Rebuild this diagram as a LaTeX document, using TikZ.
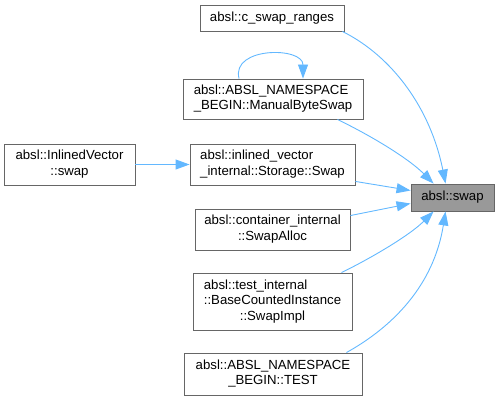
\documentclass[tikz,border=0pt]{standalone}
\usepackage{fontspec}
\setmainfont{Liberation Sans}
\usepackage{xcolor}
\definecolor{dxEdge}  {RGB}{ 99, 184, 255}
\definecolor{dxBorder}{RGB}{102, 102, 102}
\definecolor{dxFocus} {RGB}{153, 153, 153}
\usepackage{tikz}
\usetikzlibrary{
  arrows.meta,
  positioning,
}
% label lines: left aligned, last one centred
\newcommand{\fnlabel}[1]{\begin{tabular}{@{}l@{}}#1\end{tabular}}
\newcommand{\lastrow}[1]{\multicolumn{1}{@{}c@{}}{#1}}

\begin{document}
\begin{tikzpicture}[
  x=1pt, y=1pt,
  font=\fontsize{13.2}{15.5}\selectfont,
  fnbox/.style={draw=dxBorder, line width=0.9pt, fill=white, inner sep=0pt},
  focus/.style={fnbox, fill=dxFocus},
  call/.style={draw=dxEdge, line width=0.9pt, -{Triangle[length=14pt,width=10pt]}},
]
  \useasboundingbox (0,0) rectangle (501,400);

  % Target function
  \node[focus, minimum width=83, minimum height=27] (target) at (452.5,202.5) {absl::swap};

  % Callers
  \node[fnbox, minimum width=144, minimum height=26] (cswap)  at (272,382)   {absl::c\_swap\_ranges};
  \node[fnbox, minimum width=180, minimum height=40] (mbswap) at (273,301)   {\fnlabel{absl::ABSL\_NAMESPACE\\ \lastrow{\_BEGIN::ManualByteSwap}}};
  \node[fnbox, minimum width=165, minimum height=41] (stswap) at (272.5,235.5) {\fnlabel{absl::inlined\_vector\\ \lastrow{\_internal::Storage::Swap}}};
  \node[fnbox, minimum width=131, minimum height=41] (ivswap) at (69.5,235.5)  {\fnlabel{absl::InlinedVector\\ \lastrow{::swap}}};
  \node[fnbox, minimum width=155, minimum height=41] (salloc) at (272.5,170.5) {\fnlabel{absl::container\_internal\\ \lastrow{::SwapAlloc}}};
  \node[fnbox, minimum width=159, minimum height=57] (simpl)  at (272.5,98.5)  {\fnlabel{absl::test\_internal\\ ::BaseCountedInstance\\ \lastrow{::SwapImpl}}};
  \node[fnbox, minimum width=178, minimum height=42] (abtest) at (273,26)    {\fnlabel{absl::ABSL\_NAMESPACE\\ \lastrow{\_BEGIN::TEST}}};

  % Call edges
  \draw[call] ([xshift=-2]cswap.south east) .. controls +(50,-25) and +(-15,75) .. ([xshift=35]target.north west);
  \draw[call] ([xshift=-26]mbswap.south east) .. controls +(35,-17) and +(-25,25) .. ([xshift=23]target.north west);
  \draw[call] ([xshift=-34]mbswap.north) .. controls +(-8,32) and +(0,32) .. ([xshift=30]mbswap.north);
  \draw[call] ([yshift=4]stswap.south east) -- ([yshift=7]target.west);
  \draw[call] (ivswap.east) -- (stswap.west);
  \draw[call] ([yshift=-7]salloc.north east) -- ([yshift=-6]target.west);
  \draw[call] ([xshift=-11]simpl.north east) .. controls +(25,12) and +(-25,-25) .. ([xshift=23]target.south west);
  \draw[call] ([xshift=-16]abtest.north east) .. controls +(45,25) and +(-12,-75) .. ([xshift=35]target.south west);
\end{tikzpicture}
\end{document}
